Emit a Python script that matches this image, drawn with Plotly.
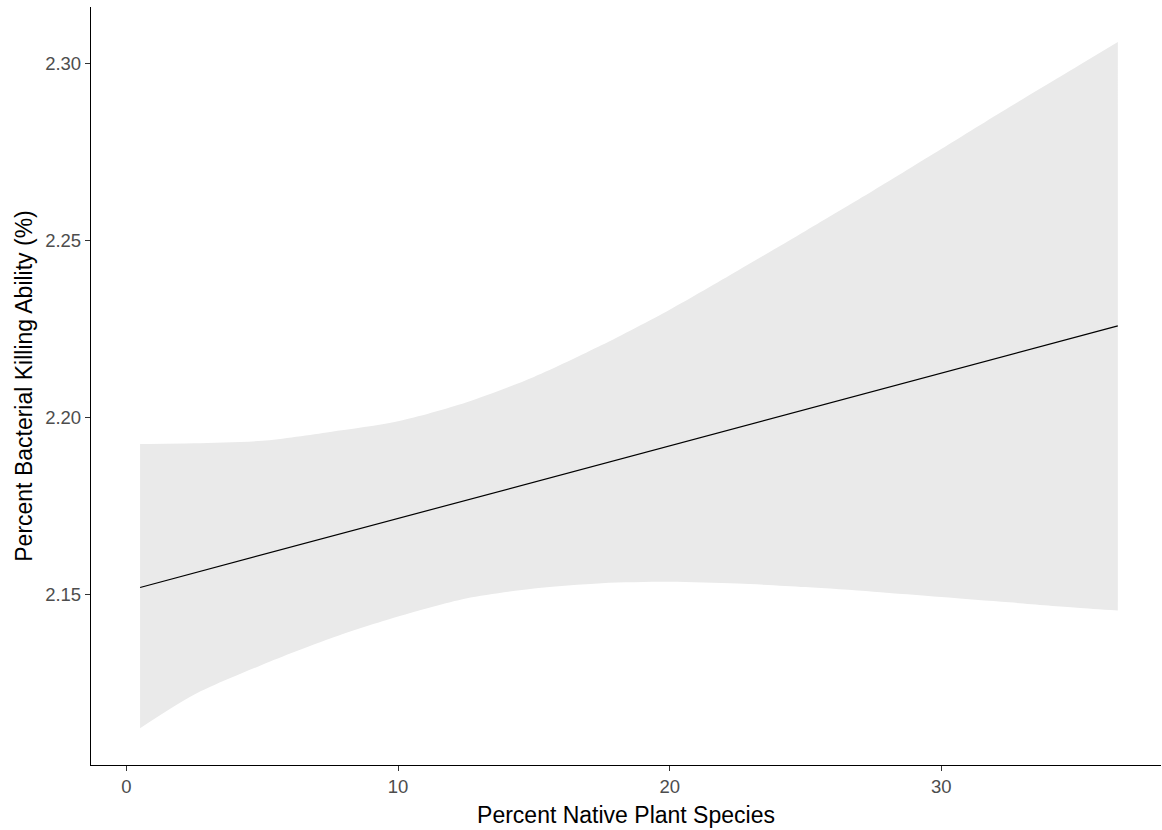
import plotly.graph_objects as go

# Percent Native Plant Species (x grid)
x_vals = [0.5, 2.5, 5, 7.5, 10, 12.5, 15, 17.5, 20, 22.5, 25, 27.5, 30, 32.5, 35, 36.5]
# fitted line
fit_vals = [2.1521, 2.1562, 2.1613, 2.1665, 2.1716, 2.1767, 2.1818, 2.1870,
            2.1921, 2.1972, 2.2023, 2.2075, 2.2126, 2.2177, 2.2228, 2.2259]
# confidence band
upper_vals = [2.1926, 2.1928, 2.1935, 2.1960, 2.1990, 2.2043, 2.2115, 2.2205,
              2.2305, 2.2415, 2.2527, 2.2641, 2.2758, 2.2876, 2.2991, 2.3060]
lower_vals = [2.1124, 2.1219, 2.1303, 2.1377, 2.1439, 2.1490, 2.1518, 2.1533,
              2.1537, 2.1532, 2.1522, 2.1509, 2.1494, 2.1479, 2.1464, 2.1456]

x_ticks = [0, 10, 20, 30]
y_ticks = [2.15, 2.20, 2.25, 2.30]
y_tick_text = ["2.15", "2.20", "2.25", "2.30"]

FONT = "Liberation Sans, Arial, sans-serif"
BAND = "#EAEAEA"

fig = go.Figure()
fig.add_trace(go.Scatter(
    x=x_vals, y=lower_vals, mode="lines",
    line=dict(width=0, color=BAND, shape="spline", smoothing=0.8),
    hoverinfo="skip", showlegend=False,
))
fig.add_trace(go.Scatter(
    x=x_vals, y=upper_vals, mode="lines", fill="tonexty", fillcolor=BAND,
    line=dict(width=0, color=BAND, shape="spline", smoothing=0.8),
    hoverinfo="skip", showlegend=False,
))
fig.add_trace(go.Scatter(
    x=x_vals, y=fit_vals, mode="lines",
    line=dict(color="black", width=1.2), showlegend=False,
))

axis_common = dict(
    showgrid=False, zeroline=False, showline=True, linecolor="black", linewidth=1.3,
    ticks="outside", ticklen=5, tickwidth=1.1, tickcolor="#333333",
    tickfont=dict(family=FONT, size=18.5, color="#4D4D4D"),
)

fig.update_layout(
    width=1162, height=830,
    margin=dict(l=91, r=1, t=7, b=65),
    paper_bgcolor="white", plot_bgcolor="white",
    font=dict(family=FONT),
    xaxis=dict(
        range=[-1.307, 38.09], tickvals=x_ticks,
        title=dict(text="Percent Native Plant Species",
                   font=dict(family=FONT, size=23, color="black"), standoff=10),
        **axis_common,
    ),
    yaxis=dict(
        range=[2.1020, 2.3159], tickvals=y_ticks, ticktext=y_tick_text,
        title=dict(text="Percent Bacterial Killing Ability (%)",
                   font=dict(family=FONT, size=23, color="black"), standoff=6),
        **axis_common,
    ),
)

fig.write_html("out.html")
